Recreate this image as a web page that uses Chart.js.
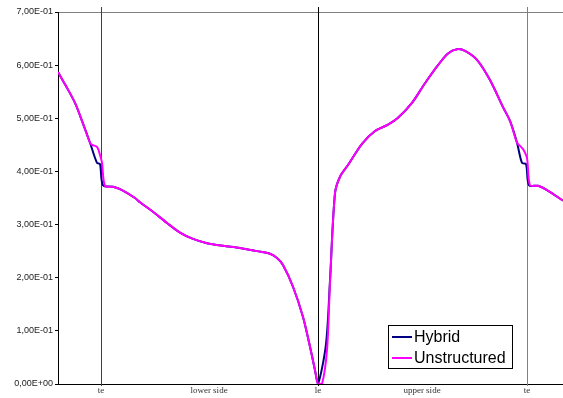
<!DOCTYPE html>
<html lang="en">
<head>
  <meta charset="UTF-8">
  <title>Hybrid vs Unstructured</title>
  <script src="https://cdn.jsdelivr.net/npm/chart.js"></script>
  <style>
    html, body { margin: 0; padding: 0; background: #fff; }
    #wrap { width: 563px; height: 398px; }
  </style>
</head>
<body>
  <div id="wrap"><canvas id="cpChart"></canvas></div>
  <script>
    // station along the surface: te -> lower side -> le -> upper side -> te
    const sUnstructured = [0, 7, 17, 25, 32, 34, 39, 42, 44, 47, 55, 64, 77, 82, 95, 109, 122, 135, 149, 165, 182, 199, 212, 219, 225, 235, 245, 252, 257, 260, 264, 269, 272, 277, 282, 290, 304, 317, 330, 340, 354, 367, 380, 390, 399, 407, 419, 432, 445, 452, 459, 462, 465, 469, 472, 480, 489, 505];
    const vUnstructured = [0.587, 0.564, 0.529, 0.490, 0.454, 0.450, 0.446, 0.431, 0.416, 0.373, 0.371, 0.365, 0.350, 0.342, 0.324, 0.303, 0.285, 0.273, 0.265, 0.260, 0.256, 0.250, 0.245, 0.237, 0.224, 0.183, 0.126, 0.070, 0.026, 0.000, 0.000, 0.064, 0.190, 0.359, 0.390, 0.412, 0.452, 0.476, 0.488, 0.501, 0.529, 0.566, 0.600, 0.622, 0.630, 0.627, 0.610, 0.572, 0.521, 0.495, 0.454, 0.448, 0.442, 0.425, 0.374, 0.373, 0.365, 0.345];

    const sHybrid = [0, 7, 17, 25, 32, 39, 42, 45, 55, 64, 77, 82, 95, 109, 122, 135, 149, 165, 182, 199, 212, 219, 225, 235, 245, 252, 257, 260, 268, 272, 277, 282, 290, 304, 317, 330, 340, 354, 367, 380, 390, 399, 407, 419, 432, 445, 452, 459, 464, 468, 471, 480, 489, 505];
    const vHybrid = [0.587, 0.564, 0.529, 0.490, 0.454, 0.416, 0.414, 0.374, 0.371, 0.365, 0.350, 0.342, 0.324, 0.303, 0.285, 0.273, 0.265, 0.260, 0.256, 0.250, 0.245, 0.237, 0.224, 0.183, 0.126, 0.070, 0.026, 0.000, 0.075, 0.195, 0.359, 0.390, 0.412, 0.452, 0.476, 0.488, 0.501, 0.529, 0.566, 0.600, 0.622, 0.630, 0.627, 0.610, 0.572, 0.521, 0.495, 0.454, 0.416, 0.414, 0.374, 0.373, 0.365, 0.345];

    const tickPos = [43, 151, 260, 364, 469];
    const tickLabels = ['te', 'lower side', 'le', 'upper side', 'te'];
    const markerPos = [43, 260, 469];
    const markerColors = ['#404040', '#000000', '#808080'];

    function sciComma(v) {
      if (Math.abs(v) < 1e-12) return '0,00E+00';
      let e = Math.floor(Math.log10(Math.abs(v)) + 1e-9);
      let m = v / Math.pow(10, e);
      let sign = e < 0 ? '-' : '+';
      let ee = String(Math.abs(e)).padStart(2, '0');
      return m.toFixed(2).replace('.', ',') + 'E' + sign + ee;
    }

    const markers = {
      id: 'markers',
      beforeDatasetsDraw(chart) {
        const { ctx, scales: { x }, chartArea } = chart;
        ctx.save();
        ctx.lineWidth = 1;
        markerPos.forEach((p, i) => {
          const px = Math.round(x.getPixelForValue(p)) + 0.5;
          ctx.strokeStyle = markerColors[i];
          ctx.beginPath();
          ctx.moveTo(px, chartArea.top - 5);
          ctx.lineTo(px, chartArea.bottom + 2);
          ctx.stroke();
        });
        ctx.restore();
      }
    };

    const boxLegend = {
      id: 'boxLegend',
      afterDraw(chart) {
        const ctx = chart.ctx;
        const items = [['Hybrid', '#000080'], ['Unstructured', '#ff00ff']];
        ctx.save();
        ctx.fillStyle = '#fff';
        ctx.fillRect(388, 325, 124, 44);
        ctx.strokeStyle = '#000';
        ctx.lineWidth = 1;
        ctx.strokeRect(388.5, 325.5, 124, 43);
        ctx.font = '16px "Liberation Sans", Arial, sans-serif';
        ctx.textBaseline = 'middle';
        items.forEach((it, i) => {
          const y = 337 + i * 21;
          ctx.strokeStyle = it[1];
          ctx.lineWidth = 2;
          ctx.beginPath();
          ctx.moveTo(392, y);
          ctx.lineTo(412, y);
          ctx.stroke();
          ctx.fillStyle = '#000';
          ctx.fillText(it[0], 414, y + 1);
        });
        ctx.restore();
      }
    };

    const ctx = document.getElementById('cpChart').getContext('2d');
    new Chart(ctx, {
      type: 'line',
      data: {
        datasets: [
          {
            label: 'Unstructured',
            data: sUnstructured.map((s, i) => ({ x: s, y: vUnstructured[i] })),
            borderColor: '#ff00ff',
            borderWidth: 2,
            pointRadius: 0,
            tension: 0.3,
            order: 1
          },
          {
            label: 'Hybrid',
            data: sHybrid.map((s, i) => ({ x: s, y: vHybrid[i] })),
            borderColor: '#000080',
            borderWidth: 2,
            pointRadius: 0,
            tension: 0.3,
            order: 2
          }
        ]
      },
      options: {
        responsive: true,
        maintainAspectRatio: false,
        animation: false,
        layout: { padding: { top: 12, right: 0, left: 0, bottom: 0 } },
        plugins: { legend: { display: false }, tooltip: { enabled: false } },
        scales: {
          x: {
            type: 'linear',
            min: 0,
            max: 505,
            afterBuildTicks: (scale) => { scale.ticks = tickPos.map(v => ({ value: v })); },
            afterFit: (scale) => { scale.height = 14; },
            ticks: {
              autoSkip: false,
              maxRotation: 0,
              padding: 1,
              color: '#333',
              font: { family: '"Liberation Serif", "Times New Roman", serif', size: 9 },
              callback: (v) => tickLabels[tickPos.indexOf(v)]
            },
            grid: { drawOnChartArea: false, drawTicks: false },
            border: { color: '#000', width: 1 }
          },
          y: {
            min: 0,
            max: 0.7,
            afterFit: (scale) => { scale.width = 58; },
            ticks: {
              stepSize: 0.1,
              padding: 2,
              color: '#222',
              font: { family: '"Liberation Sans", Arial, sans-serif', size: 9 },
              callback: (v) => sciComma(v)
            },
            grid: {
              tickLength: 3,
              tickColor: '#000',
              color: (c) => (c.tick && Math.abs(c.tick.value - 0.7) < 1e-9) ? '#808080' : 'rgba(0,0,0,0)'
            },
            border: { color: '#000', width: 1 }
          }
        }
      },
      plugins: [markers, boxLegend]
    });
  </script>
</body>
</html>
